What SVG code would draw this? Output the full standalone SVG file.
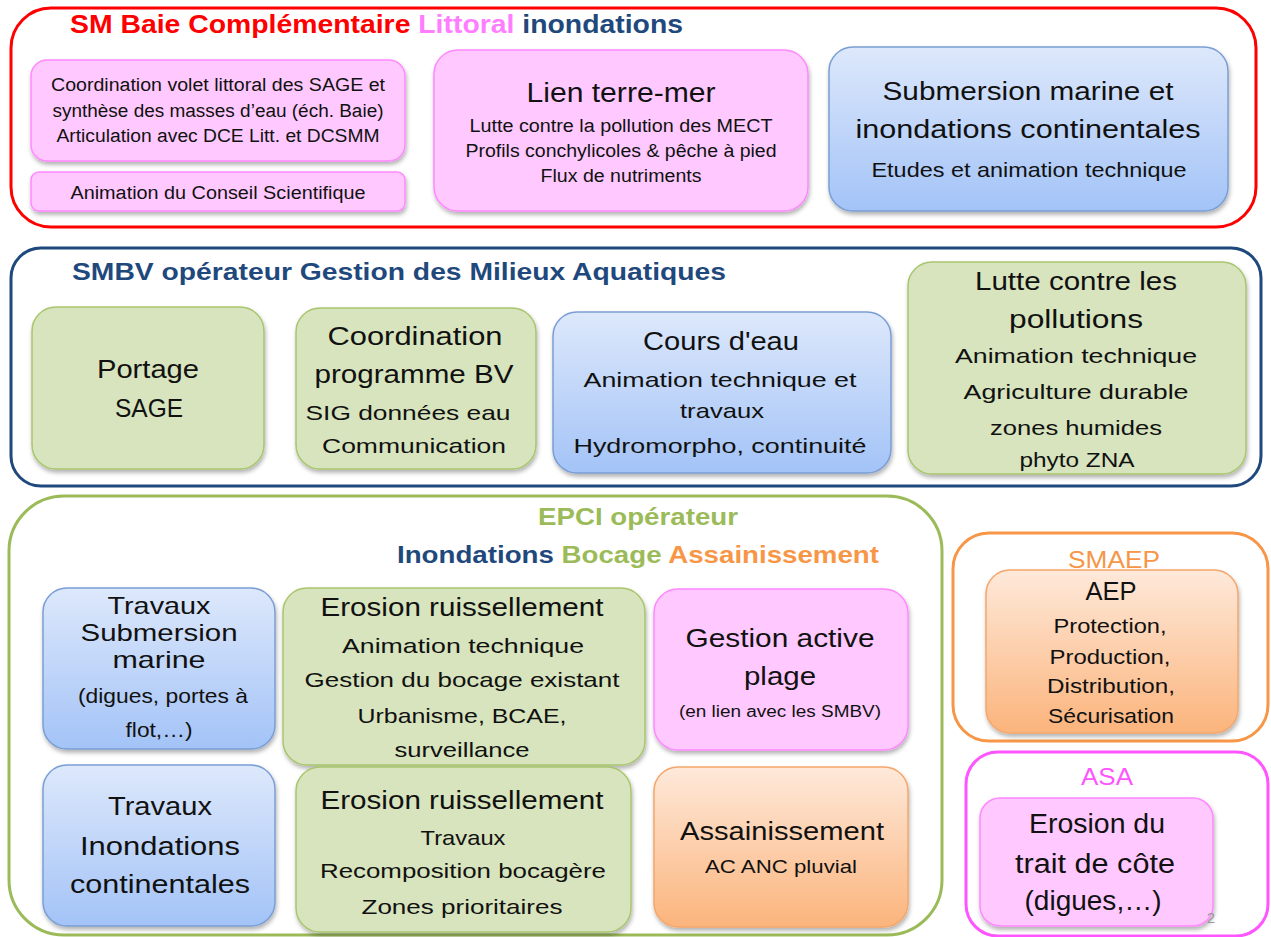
<svg xmlns="http://www.w3.org/2000/svg" width="1271" height="937" viewBox="0 0 1271 937">
<defs>
<linearGradient id="gBlue" x1="0" y1="0" x2="0" y2="1"><stop offset="0" stop-color="#DDE8FB"/><stop offset="1" stop-color="#A3C3F7"/></linearGradient>
<linearGradient id="gOrange" x1="0" y1="0" x2="0" y2="1"><stop offset="0" stop-color="#FEE9DA"/><stop offset="1" stop-color="#FBB47C"/></linearGradient>
<filter id="sh" x="-10%" y="-10%" width="120%" height="130%"><feDropShadow dx="1" dy="3" stdDeviation="2" flood-color="#000" flood-opacity="0.3"/></filter>
<style>
text{font-family:"Liberation Sans",Arial,sans-serif;fill:#111;text-anchor:middle}
.ttl{font-weight:bold;text-anchor:start}
.pink{fill:#FFC9FF;stroke:#FF88FF;stroke-width:1.5;filter:url(#sh)}
.green{fill:#D7E4BD;stroke:#A9C66E;stroke-width:1.5;filter:url(#sh)}
.blue{fill:url(#gBlue);stroke:#7A9ED4;stroke-width:1.5;filter:url(#sh)}
.orange{fill:url(#gOrange);stroke:#F5A66A;stroke-width:1.5;filter:url(#sh)}
.cont{fill:#fff;stroke-width:3}
.b{font-size:26px}.m{font-size:21px}.s{font-size:18px}.tb{font-size:24px}
.cRed{fill:#FF0000}.cPink{fill:#FF7DFF}.cNavy{fill:#1F497D}.cGreen{fill:#9BBB59}.cOrange{fill:#F79646}.cMag{fill:#FF55FF}.cGray{fill:#999}
</style>
</defs>

<g id="sm-baie">
<rect class="cont" x="11" y="8" width="1245" height="219" rx="40" stroke="#FF0000"/>
<text class="ttl" x="70" y="33" font-size="26" textLength="613" lengthAdjust="spacingAndGlyphs"><tspan class="cRed">SM Baie Complémentaire </tspan><tspan class="cPink">Littoral </tspan><tspan class="cNavy">inondations</tspan></text>
</g>
<g id="coord-littoral">
<rect class="pink" x="31" y="60" width="374" height="101" rx="16"/>
<text class="s" x="218" y="91" textLength="334" lengthAdjust="spacingAndGlyphs">Coordination volet littoral des SAGE et</text>
<text class="s" x="218" y="117" textLength="331" lengthAdjust="spacingAndGlyphs">synthèse des masses d’eau (éch. Baie)</text>
<text class="s" x="218" y="142" textLength="323" lengthAdjust="spacingAndGlyphs">Articulation avec DCE Litt. et DCSMM</text>
</g>
<g id="conseil">
<rect class="pink" x="31" y="172" width="374" height="39" rx="8"/>
<text class="s" x="218" y="199" textLength="295" lengthAdjust="spacingAndGlyphs">Animation du Conseil Scientifique</text>
</g>
<g id="lien-terre-mer">
<rect class="pink" x="434" y="50" width="374" height="161" rx="24"/>
<text x="621" y="102" font-size="27" textLength="189" lengthAdjust="spacingAndGlyphs">Lien terre-mer</text>
<text class="s" x="621" y="132" textLength="303" lengthAdjust="spacingAndGlyphs">Lutte contre la pollution des MECT</text>
<text class="s" x="621" y="157" textLength="311" lengthAdjust="spacingAndGlyphs">Profils conchylicoles &amp; pêche à pied</text>
<text class="s" x="621" y="182" textLength="161" lengthAdjust="spacingAndGlyphs">Flux de nutriments</text>
</g>
<g id="submersion">
<rect class="blue" x="829" y="47" width="399" height="164" rx="24"/>
<text x="1028" y="100" font-size="25" textLength="291" lengthAdjust="spacingAndGlyphs">Submersion marine et</text>
<text x="1028" y="138" font-size="25" textLength="345" lengthAdjust="spacingAndGlyphs">inondations continentales</text>
<text class="m" x="1029" y="177" textLength="315" lengthAdjust="spacingAndGlyphs">Etudes et animation technique</text>
</g>

<g id="smbv">
<rect class="cont" x="11" y="248" width="1250" height="238" rx="30" stroke="#1F497D"/>
<text class="ttl cNavy" x="72" y="280" font-size="24" textLength="654" lengthAdjust="spacingAndGlyphs">SMBV opérateur Gestion des Milieux Aquatiques</text>
</g>
<g id="portage">
<rect class="green" x="32" y="307" width="232" height="162" rx="24"/>
<text class="b" x="148" y="378" textLength="102" lengthAdjust="spacingAndGlyphs">Portage</text>
<text class="b" x="149" y="417" textLength="68" lengthAdjust="spacingAndGlyphs">SAGE</text>
</g>
<g id="coord-bv">
<rect class="green" x="296" y="308" width="240" height="161" rx="24"/>
<text class="b" x="415" y="345" textLength="175" lengthAdjust="spacingAndGlyphs">Coordination</text>
<text class="b" x="414" y="383" textLength="199" lengthAdjust="spacingAndGlyphs">programme BV</text>
<text class="m" x="408" y="420" textLength="205" lengthAdjust="spacingAndGlyphs">SIG données eau</text>
<text class="m" x="414" y="453" textLength="184" lengthAdjust="spacingAndGlyphs">Communication</text>
</g>
<g id="cours-eau">
<rect class="blue" x="553" y="312" width="338" height="161" rx="24"/>
<text class="b" x="721" y="350" textLength="156" lengthAdjust="spacingAndGlyphs">Cours d'eau</text>
<text class="m" x="720" y="387" textLength="273" lengthAdjust="spacingAndGlyphs">Animation technique et</text>
<text class="m" x="722" y="418" textLength="84" lengthAdjust="spacingAndGlyphs">travaux</text>
<text class="m" x="720" y="453" textLength="293" lengthAdjust="spacingAndGlyphs">Hydromorpho, continuité</text>
</g>
<g id="lutte-pollutions">
<rect class="green" x="908" y="262" width="338" height="212" rx="24"/>
<text class="b" x="1076" y="290" textLength="202" lengthAdjust="spacingAndGlyphs">Lutte contre les</text>
<text class="b" x="1076" y="328" textLength="134" lengthAdjust="spacingAndGlyphs">pollutions</text>
<text class="m" x="1076" y="363" textLength="242" lengthAdjust="spacingAndGlyphs">Animation technique</text>
<text class="m" x="1076" y="399" textLength="225" lengthAdjust="spacingAndGlyphs">Agriculture durable</text>
<text class="m" x="1076" y="435" textLength="172" lengthAdjust="spacingAndGlyphs">zones humides</text>
<text class="m" x="1077" y="467" textLength="115" lengthAdjust="spacingAndGlyphs">phyto ZNA</text>
</g>

<g id="epci">
<rect class="cont" x="9" y="496" width="933" height="439" rx="55" stroke="#9BBB59"/>
<text class="ttl cGreen" x="538" y="525" font-size="24" textLength="200" lengthAdjust="spacingAndGlyphs">EPCI opérateur</text>
<text class="ttl" x="397" y="563" font-size="24" textLength="482" lengthAdjust="spacingAndGlyphs"><tspan class="cNavy">Inondations </tspan><tspan class="cGreen">Bocage </tspan><tspan class="cOrange">Assainissement</tspan></text>
</g>
<g id="travaux-submersion">
<rect class="blue" x="43" y="588" width="232" height="161" rx="24"/>
<text class="tb" x="159" y="614" textLength="103" lengthAdjust="spacingAndGlyphs">Travaux</text>
<text class="tb" x="159" y="641" textLength="157" lengthAdjust="spacingAndGlyphs">Submersion</text>
<text class="tb" x="159" y="668" textLength="93" lengthAdjust="spacingAndGlyphs">marine</text>
<text class="m" x="163" y="703" textLength="170" lengthAdjust="spacingAndGlyphs">(digues, portes à</text>
<text class="m" x="159" y="737" textLength="67" lengthAdjust="spacingAndGlyphs">flot,…)</text>
</g>
<g id="erosion-animation">
<rect class="green" x="283" y="588" width="362" height="177" rx="24"/>
<text class="b" x="462" y="616" textLength="283" lengthAdjust="spacingAndGlyphs">Erosion ruissellement</text>
<text class="m" x="463" y="653" textLength="242" lengthAdjust="spacingAndGlyphs">Animation technique</text>
<text class="m" x="462" y="687" textLength="315" lengthAdjust="spacingAndGlyphs">Gestion du bocage existant</text>
<text class="m" x="462" y="723" textLength="209" lengthAdjust="spacingAndGlyphs">Urbanisme, BCAE,</text>
<text class="m" x="462" y="757" textLength="135" lengthAdjust="spacingAndGlyphs">surveillance</text>
</g>
<g id="gestion-plage">
<rect class="pink" x="654" y="589" width="254" height="161" rx="24"/>
<text class="b" x="780" y="647" textLength="189" lengthAdjust="spacingAndGlyphs">Gestion active</text>
<text class="b" x="780" y="685" textLength="72" lengthAdjust="spacingAndGlyphs">plage</text>
<text x="780" y="717" font-size="16" textLength="202" lengthAdjust="spacingAndGlyphs">(en lien avec les SMBV)</text>
</g>
<g id="travaux-inondations">
<rect class="blue" x="43" y="765" width="232" height="161" rx="24"/>
<text class="b" x="160" y="815" textLength="104" lengthAdjust="spacingAndGlyphs">Travaux</text>
<text class="b" x="160" y="855" textLength="160" lengthAdjust="spacingAndGlyphs">Inondations</text>
<text class="b" x="160" y="893" textLength="180" lengthAdjust="spacingAndGlyphs">continentales</text>
</g>
<g id="erosion-travaux">
<rect class="green" x="296" y="767" width="335" height="165" rx="24"/>
<text class="b" x="462" y="809" textLength="283" lengthAdjust="spacingAndGlyphs">Erosion ruissellement</text>
<text class="m" x="463" y="845" textLength="85" lengthAdjust="spacingAndGlyphs">Travaux</text>
<text class="m" x="463" y="878" textLength="286" lengthAdjust="spacingAndGlyphs">Recomposition bocagère</text>
<text class="m" x="462" y="914" textLength="201" lengthAdjust="spacingAndGlyphs">Zones prioritaires</text>
</g>
<g id="assainissement">
<rect class="orange" x="654" y="767" width="254" height="160" rx="24"/>
<text class="b" x="782" y="840" textLength="204" lengthAdjust="spacingAndGlyphs">Assainissement</text>
<text x="781" y="873" font-size="19" textLength="152" lengthAdjust="spacingAndGlyphs">AC ANC pluvial</text>
</g>

<g id="smaep">
<rect class="cont" x="953" y="533" width="315" height="208" rx="36" stroke="#F79646"/>
<text class="cOrange" x="1114" y="568" font-size="24" textLength="92" lengthAdjust="spacingAndGlyphs">SMAEP</text>
</g>
<g id="aep">
<rect class="orange" x="986" y="570" width="252" height="163" rx="24"/>
<text class="b" x="1111" y="600" textLength="51" lengthAdjust="spacingAndGlyphs">AEP</text>
<text class="m" x="1110" y="633" textLength="113" lengthAdjust="spacingAndGlyphs">Protection,</text>
<text class="m" x="1110" y="664" textLength="121" lengthAdjust="spacingAndGlyphs">Production,</text>
<text class="m" x="1111" y="693" textLength="128" lengthAdjust="spacingAndGlyphs">Distribution,</text>
<text class="m" x="1111" y="723" textLength="126" lengthAdjust="spacingAndGlyphs">Sécurisation</text>
</g>
<g id="asa">
<rect class="cont" x="966" y="752" width="302" height="184" rx="32" stroke="#FF55FF"/>
<text class="cMag" x="1107" y="785" font-size="24" textLength="52" lengthAdjust="spacingAndGlyphs">ASA</text>
</g>
<g id="erosion-trait-cote">
<rect class="pink" x="980" y="798" width="233" height="128" rx="20"/>
<text x="1097" y="833" font-size="27" textLength="136" lengthAdjust="spacingAndGlyphs">Erosion du</text>
<text x="1095" y="873" font-size="27" textLength="160" lengthAdjust="spacingAndGlyphs">trait de côte</text>
<text x="1093" y="910" font-size="27" textLength="137" lengthAdjust="spacingAndGlyphs">(digues,…)</text>
</g>
<text class="cGray" x="1211" y="923" font-size="15">2</text>
<g id="connectors"/>
</svg>
